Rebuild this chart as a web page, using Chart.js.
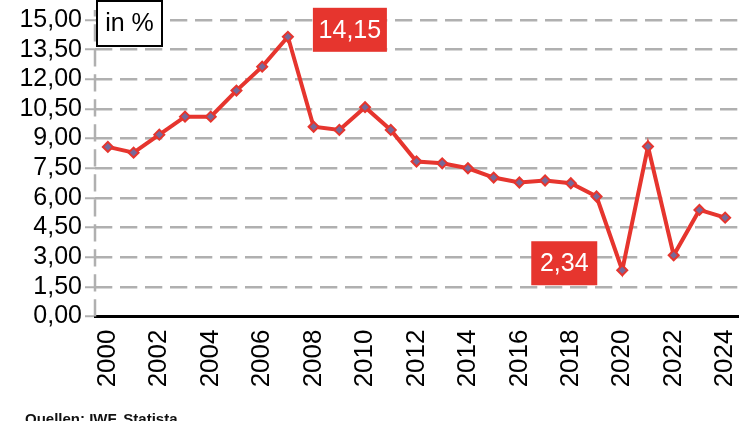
<!DOCTYPE html>
<html>
<head>
<meta charset="utf-8">
<script src="https://cdn.jsdelivr.net/npm/chart.js@4"></script>
<style>
  html, body { margin: 0; padding: 0; background: #ffffff; }
  #wrap { width: 750px; height: 421px; position: relative; }
</style>
</head>
<body>
<div id="wrap"><canvas id="c" width="750" height="421"></canvas></div>
<script>
// ---- data ----
const years = ['2000','2001','2002','2003','2004','2005','2006','2007','2008','2009','2010','2011','2012','2013','2014','2015','2016','2017','2018','2019','2020','2021','2022','2023','2024'];
const values = [8.58, 8.29, 9.20, 10.11, 10.11, 11.43, 12.64, 14.15, 9.60, 9.44, 10.59, 9.44, 7.84, 7.75, 7.50, 7.03, 6.78, 6.88, 6.74, 6.07, 2.34, 8.60, 3.10, 5.39, 5.00];
const yMin = 0;
const yMax = 15;
const yStep = 1.5;
const highlightIdx = [7, 20];
const highlightText = ['14,15', '2,34'];
const highlightSide = ['right', 'left'];
const unitLabel = 'in %';
const sourceText = 'Quellen: IWF, Statista';

const RED = '#e6352e';
const GRID = '#b0b0b0';
const FONT = '"Liberation Sans", Arial, Helvetica, sans-serif';
const DASH = [17.3, 7.7];

const fmt = v => v.toFixed(2).replace('.', ',');

const decor = {
  id: 'decor',
  beforeDatasetsDraw(chart) {
    const ctx = chart.ctx, a = chart.chartArea;
    ctx.save();
    ctx.strokeStyle = GRID;
    ctx.lineWidth = 2.5;
    ctx.setLineDash(DASH);
    ctx.beginPath();
    ctx.moveTo(a.left, a.bottom);
    ctx.lineTo(a.left, a.top - 10);
    ctx.stroke();
    ctx.restore();
  },
  afterDraw(chart) {
    const ctx = chart.ctx, a = chart.chartArea;
    const meta = chart.getDatasetMeta(0);
    ctx.save();
    // unit box
    const bx = a.left + 2, by = 1, bw = 65, bh = 45;
    ctx.fillStyle = '#ffffff';
    ctx.fillRect(bx, by, bw, bh);
    ctx.strokeStyle = '#000000';
    ctx.lineWidth = 2;
    ctx.strokeRect(bx, by, bw, bh);
    ctx.fillStyle = '#000000';
    ctx.font = '25px ' + FONT;
    ctx.textAlign = 'center';
    ctx.textBaseline = 'middle';
    ctx.fillText(unitLabel, bx + bw / 2, by + bh / 2 + 1);

    // highlight labels
    const boxW = [74, 66];
    highlightIdx.forEach((idx, k) => {
      const p = meta.data[idx];
      ctx.font = '25px ' + FONT;
      const w = boxW[k], h = 44;
      const x = highlightSide[k] === 'right' ? p.x + 25 : p.x - 25 - w;
      const y = p.y - 7 - h / 2;
      ctx.fillStyle = RED;
      ctx.fillRect(x, y, w, h);
      ctx.fillStyle = '#ffffff';
      ctx.textAlign = 'center';
      ctx.textBaseline = 'middle';
      ctx.fillText(highlightText[k], x + w / 2, y + h / 2 + 1);
    });

    // source
    ctx.fillStyle = '#111111';
    ctx.font = 'bold 15px ' + FONT;
    ctx.textAlign = 'left';
    ctx.textBaseline = 'alphabetic';
    ctx.fillText(sourceText, 25, 423.5);
    ctx.restore();
  }
};

new Chart(document.getElementById('c'), {
  type: 'line',
  data: {
    labels: years,
    datasets: [{
      data: values,
      borderColor: RED,
      borderWidth: 4,
      tension: 0,
      pointStyle: 'rectRot',
      pointRadius: 5,
      pointBackgroundColor: '#76699a',
      pointBorderColor: RED,
      pointBorderWidth: 2
    }]
  },
  options: {
    responsive: false,
    devicePixelRatio: 1,
    animation: false,
    layout: { padding: { top: 20, right: 12, left: 0, bottom: 0 } },
    plugins: { legend: { display: false }, tooltip: { enabled: false } },
    scales: {
      x: {
        type: 'category',
        offset: true,
        grid: { display: false, drawTicks: false },
        border: { display: true, color: '#000000', width: 3 },
        ticks: {
          autoSkip: false,
          minRotation: 90,
          maxRotation: 90,
          padding: 13,
          color: '#000000',
          font: { family: FONT, size: 26 },
          callback: function(val, idx) { return idx % 2 === 0 ? this.getLabelForValue(val) : ''; }
        },
        afterFit(scale) { scale.height = 104.5; scale.paddingLeft = 0; scale.paddingRight = 0; }
      },
      y: {
        min: yMin,
        max: yMax,
        border: { display: false, dash: DASH, dashOffset: 0 },
        grid: {
          color: GRID,
          lineWidth: 2.5,
          tickLength: 10,
          tickColor: GRID,
          tickWidth: 2,
          tickBorderDash: []
        },
        ticks: {
          stepSize: yStep,
          autoSkip: false,
          padding: 3,
          color: '#000000',
          font: { family: FONT, size: 25 },
          callback: v => fmt(v)
        },
        afterFit(scale) { scale.width = 95; scale.paddingTop = 0; scale.paddingBottom = 0; }
      }
    }
  },
  plugins: [decor]
});
</script>
</body>
</html>
